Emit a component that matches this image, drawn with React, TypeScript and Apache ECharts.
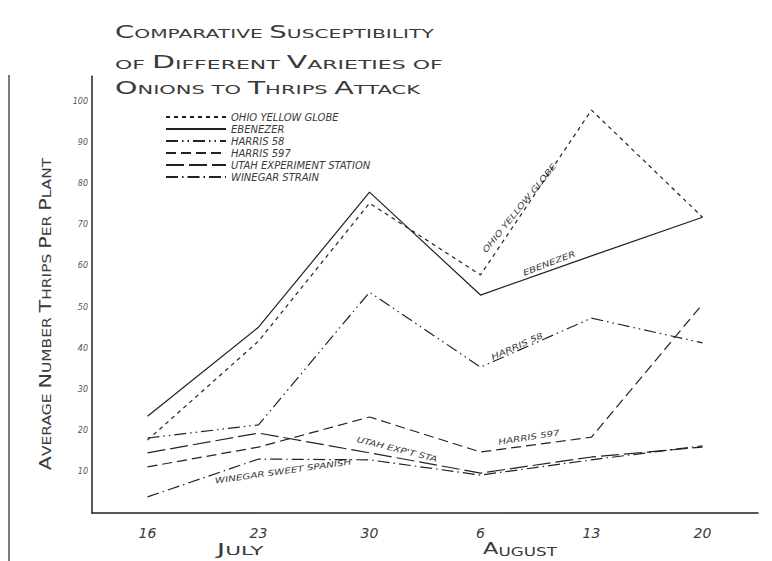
import React, { useEffect, useRef } from "react";
import * as echarts from "echarts";

const categories = ["16", "23", "30", "6", "13", "20"];
const seriesNames = [
  "OHIO YELLOW GLOBE",
  "EBENEZER",
  "HARRIS 58",
  "HARRIS 597",
  "UTAH EXPERIMENT STATION",
  "WINEGAR STRAIN",
];
const ohioYellowGlobe = [17.7, 41.7, 75.2, 57.8, 97.8, 71.8];
const ebenezer = [23.5, 45.1, 77.9, 52.9, 62.4, 71.8];
const harris58 = [18.2, 21.4, 53.6, 35.4, 47.3, 41.3];
const harris597 = [11.2, 16.0, 23.3, 14.8, 18.4, 50.7];
const utahStation = [14.6, 19.4, 14.6, 9.7, 13.6, 16.0];
const winegarStrain = [3.9, 13.1, 12.9, 9.2, 12.9, 16.3];
const yTicks = [10, 20, 30, 40, 50, 60, 70, 80, 90, 100];

const FONT = "'DejaVu Sans'";
const INK = "#222";
const TXT = "#3a3a3a";

const dashes: any[] = [
  [4, 4],
  "solid",
  [12, 4, 1.5, 4, 1.5, 4],
  [10, 5],
  [18, 5],
  [12, 4, 1.5, 4],
];
const values = [ohioYellowGlobe, ebenezer, harris58, harris597, utahStation, winegarStrain];

function smallCaps(words: string[], bigFirst: boolean[]) {
  return words
    .map((w, i) => (bigFirst[i] ? `{b|${w[0]}}{s|${w.slice(1)}}` : `{s|${w}}`))
    .join("{s| }");
}

function scTextEl(
  words: string[],
  bigFirst: boolean[],
  x: number,
  y: number,
  scaleX: number,
  big: number,
  small: number,
  rotation = 0,
  align = "left"
) {
  return {
    type: "text",
    x,
    y,
    rotation,
    scaleX,
    silent: true,
    style: {
      text: smallCaps(words, bigFirst),
      fill: TXT,
      fontFamily: FONT,
      fontSize: small,
      align,
      verticalAlign: "middle",
      rich: {
        b: { fontSize: big, fontFamily: FONT, fill: TXT, verticalAlign: "bottom" },
        s: { fontSize: small, fontFamily: FONT, fill: TXT, verticalAlign: "bottom" },
      },
    },
  };
}

function plotLabel(text: string, x: number, y: number, deg: number, size = 8) {
  return {
    type: "text",
    x,
    y,
    rotation: (deg * Math.PI) / 180,
    scaleX: 1.3,
    silent: true,
    style: {
      text,
      fill: TXT,
      fontFamily: FONT,
      fontStyle: "italic",
      fontSize: size,
      align: "center",
      verticalAlign: "middle",
    },
  };
}

export default function App() {
  const ref = useRef<HTMLDivElement>(null);
  useEffect(() => {
    if (!ref.current) return;
    const chart = echarts.init(ref.current, undefined, { renderer: "svg" });
    const option: any = {
      animation: false,
      backgroundColor: "#fff",
      grid: { left: 92, right: 14, top: 76.3, bottom: 48 },
      xAxis: {
        type: "category",
        data: categories,
        boundaryGap: true,
        axisTick: { show: false },
        axisLine: { lineStyle: { color: INK, width: 1.5 } },
        axisLabel: {
          color: TXT,
          fontFamily: FONT,
          fontStyle: "italic",
          fontSize: 14,
          margin: 13,
        },
      },
      yAxis: {
        type: "value",
        min: 0,
        max: 106,
        interval: 10,
        splitLine: { show: false },
        axisTick: { show: false },
        axisLine: { show: true, lineStyle: { color: INK, width: 1.5 } },
        axisLabel: {
          color: "#555",
          fontFamily: FONT,
          fontStyle: "italic",
          fontSize: 8,
          margin: 4,
          showMinLabel: false,
          showMaxLabel: false,
          formatter: (v: number) => (yTicks.includes(v) ? String(v) : ""),
        },
      },
      legend: {
        orient: "vertical",
        left: 160,
        top: 107,
        itemWidth: 60,
        itemHeight: 8,
        itemGap: 2,
        data: seriesNames,
        itemStyle: { opacity: 0 },
        textStyle: {
          color: TXT,
          fontFamily: FONT,
          fontStyle: "italic",
          fontSize: 10,
          lineHeight: 10,
        },
      },
      series: seriesNames.map((name, i) => ({
        name,
        type: "line",
        data: values[i],
        symbol: "none",
        lineStyle: { color: INK, width: 1.2, type: dashes[i] },
        itemStyle: { color: INK },
      })),
      graphic: [
        scTextEl(["COMPARATIVE", "SUSCEPTIBILITY"], [true, true], 115, 32, 1.62, 17, 12.5),
        scTextEl(["OF", "DIFFERENT", "VARIETIES", "OF"], [false, true, true, false], 115, 62, 1.76, 17, 12.5),
        scTextEl(["ONIONS", "TO", "THRIPS", "ATTACK"], [true, false, true, true], 115, 88, 1.68, 17, 12.5),
        scTextEl(
          ["AVERAGE", "NUMBER", "THRIPS", "PER", "PLANT"],
          [true, true, true, true, true],
          45,
          314,
          1.29,
          16,
          12,
          Math.PI / 2,
          "center"
        ),
        scTextEl(["JULY"], [true], 240, 549, 1.8, 16, 12, 0, "center"),
        scTextEl(["AUGUST"], [true], 520, 549, 1.4, 16, 12, 0, "center"),
        plotLabel("OHIO YELLOW GLOBE", 519, 208, 51),
        plotLabel("EBENEZER", 549, 263, 21),
        plotLabel("HARRIS 58", 517, 346, 24),
        plotLabel("HARRIS 597", 529, 437, 9),
        plotLabel("UTAH EXP'T STA", 397, 449, -14),
        plotLabel("WINEGAR SWEET SPANISH", 283, 471, 8),
        {
          type: "line",
          silent: true,
          shape: { x1: 9, y1: 75, x2: 9, y2: 561 },
          style: { stroke: INK, lineWidth: 1.2 },
        },
      ],
    };
    chart.setOption(option);
    return () => chart.dispose();
  }, []);
  return (
    <div
      ref={ref}
      style={{ position: "fixed", left: 0, top: 0, width: 772, height: 561, background: "#fff" }}
    />
  );
}
